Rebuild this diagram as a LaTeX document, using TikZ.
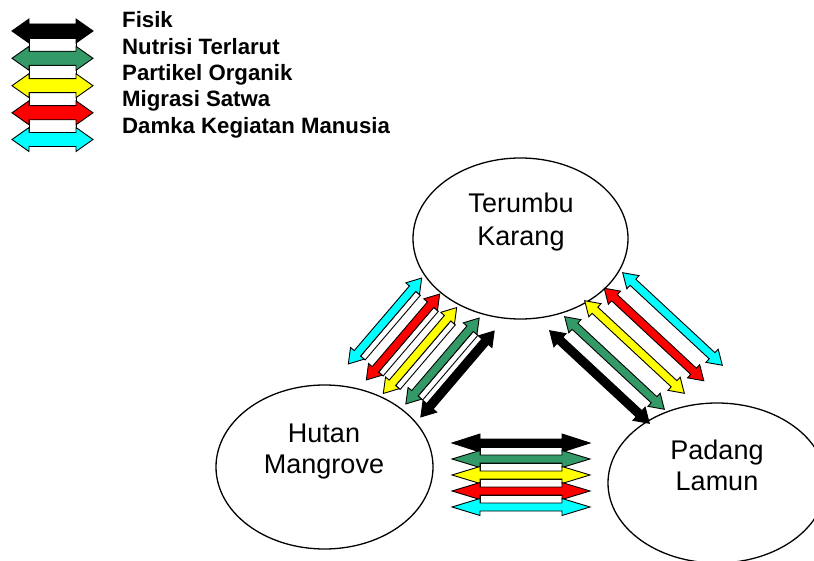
\documentclass[tikz,border=0pt]{standalone}
\usepackage{fontspec}
\setmainfont{Liberation Sans}
\usetikzlibrary{shapes.geometric}
\definecolor{agreen}{RGB}{51,153,102}
\definecolor{ayellow}{RGB}{255,255,0}
\definecolor{ared}{RGB}{255,0,0}
\definecolor{acyan}{RGB}{0,255,255}
% #1 colour, #2 cx, #3 cy, #4 angle, #5 half length, #6 head length, #7 head half width, #8 shaft half width, #9 depth of white side
\newcommand{\blkarrow}[9]{%
\begin{scope}[shift={(#2,#3)},rotate=#4]
\ifdim #9pt>0pt
\filldraw[arrowline,fill=white] ({-#5+#6},{#8}) rectangle ({#5-#6},{#8+#9});
\fi
\filldraw[arrowline,fill=#1] ({-#5},0) -- ({-#5+#6},{-#7}) -- ({-#5+#6},{-#8}) -- ({#5-#6},{-#8}) -- ({#5-#6},{-#7}) -- ({#5},0) -- ({#5-#6},{#7}) -- ({#5-#6},{#8}) -- ({-#5+#6},{#8}) -- ({-#5+#6},{#7}) -- cycle;
\end{scope}}
\begin{document}
\begin{tikzpicture}[x=1pt,y=-1pt,
  arrowline/.style={draw=black,line width=0.9pt,line join=miter},
  eli/.style={draw=black,line width=1.3pt,ellipse,inner sep=0pt,fill=white},
  lbl/.style={inner sep=0pt,font=\fontsize{27}{32}\selectfont},
  leg/.style={inner sep=0pt,anchor=base west,font=\fontsize{22.2}{26}\selectfont\bfseries}]
\useasboundingbox (0,0) rectangle (814,561);
\clip (0,0) rectangle (814,561);
\fill[white] (0,0) rectangle (814,561);

% legend
\blkarrow{black}{52.5}{31}{0}{40.5}{17}{12}{7}{13}
\blkarrow{agreen}{52.5}{58.3}{0}{40.5}{17}{12}{7}{13}
\blkarrow{ayellow}{52.5}{85.7}{0}{40.5}{17}{12}{7}{13}
\blkarrow{ared}{52.5}{112.8}{0}{40.5}{17}{12}{7}{13}
\blkarrow{acyan}{52.5}{139.5}{0}{40.5}{17}{12}{7}{0}
\node[leg] (l1) at (122,28) {Fisik};
\node[leg] (l2) at (122,54.5) {Nutrisi Terlarut};
\node[leg] (l3) at (122,81) {Partikel Organik};
\node[leg] (l4) at (122,107) {Migrasi Satwa};
\node[leg] (l5) at (122,133.5) {Damka Kegiatan Manusia};

% ecosystems
\node[eli,minimum width=215pt,minimum height=161pt] (tk) at (520.5,238.5) {};
\node[eli,minimum width=217pt,minimum height=164pt] (hm) at (324.5,467) {};
\node[eli,minimum width=218pt,minimum height=160pt] (pl) at (717,483) {};
\node[lbl,anchor=base] (tk1) at (521,213) {Terumbu};
\node[lbl,anchor=base] (tk2) at (521,246) {Karang};
\node[lbl,anchor=base] (hm1) at (324,442) {Hutan};
\node[lbl,anchor=base] (hm2) at (324,473) {Mangrove};
\node[lbl,anchor=base] (pl1) at (717,459) {Padang};
\node[lbl,anchor=base] (pl2) at (717,490) {Lamun};

% Hutan Mangrove <-> Terumbu Karang
\blkarrow{acyan}{385}{321}{49.5}{56.5}{14}{9}{4.2}{6}
\blkarrow{ared}{403}{337}{49.5}{56.5}{14}{9}{4.2}{6}
\blkarrow{ayellow}{420}{350.5}{49.5}{56.5}{14}{9}{4.2}{6}
\blkarrow{agreen}{442.5}{361}{49.5}{56.5}{14}{9}{4.2}{6}
\blkarrow{black}{457.5}{374}{49.5}{56.5}{14}{9}{4.2}{0}

% Terumbu Karang <-> Padang Lamun
\blkarrow{acyan}{672.5}{319}{-42.9}{68}{14}{9}{4.2}{0}
\blkarrow{ared}{654}{334.5}{-42.9}{68}{14}{9}{4.2}{0}
\blkarrow{ayellow}{634.5}{347}{-42.9}{68}{14}{9}{4.2}{0}
\blkarrow{agreen}{614.5}{363}{-42.9}{68}{14}{9}{4.2}{0}
\blkarrow{black}{599.5}{377}{-42.9}{68}{14}{9}{4.2}{0}

% Hutan Mangrove <-> Padang Lamun
\blkarrow{black}{521}{443}{0}{69}{28}{9}{4}{8}
\blkarrow{agreen}{521}{459}{0}{69}{28}{8.5}{4}{8}
\blkarrow{ayellow}{521}{475}{0}{69}{28}{8.5}{4}{8}
\blkarrow{ared}{521}{491}{0}{69}{28}{8.5}{4}{8}
\blkarrow{acyan}{521}{507}{0}{69}{28}{8.5}{4}{0}
\end{tikzpicture}
\end{document}
